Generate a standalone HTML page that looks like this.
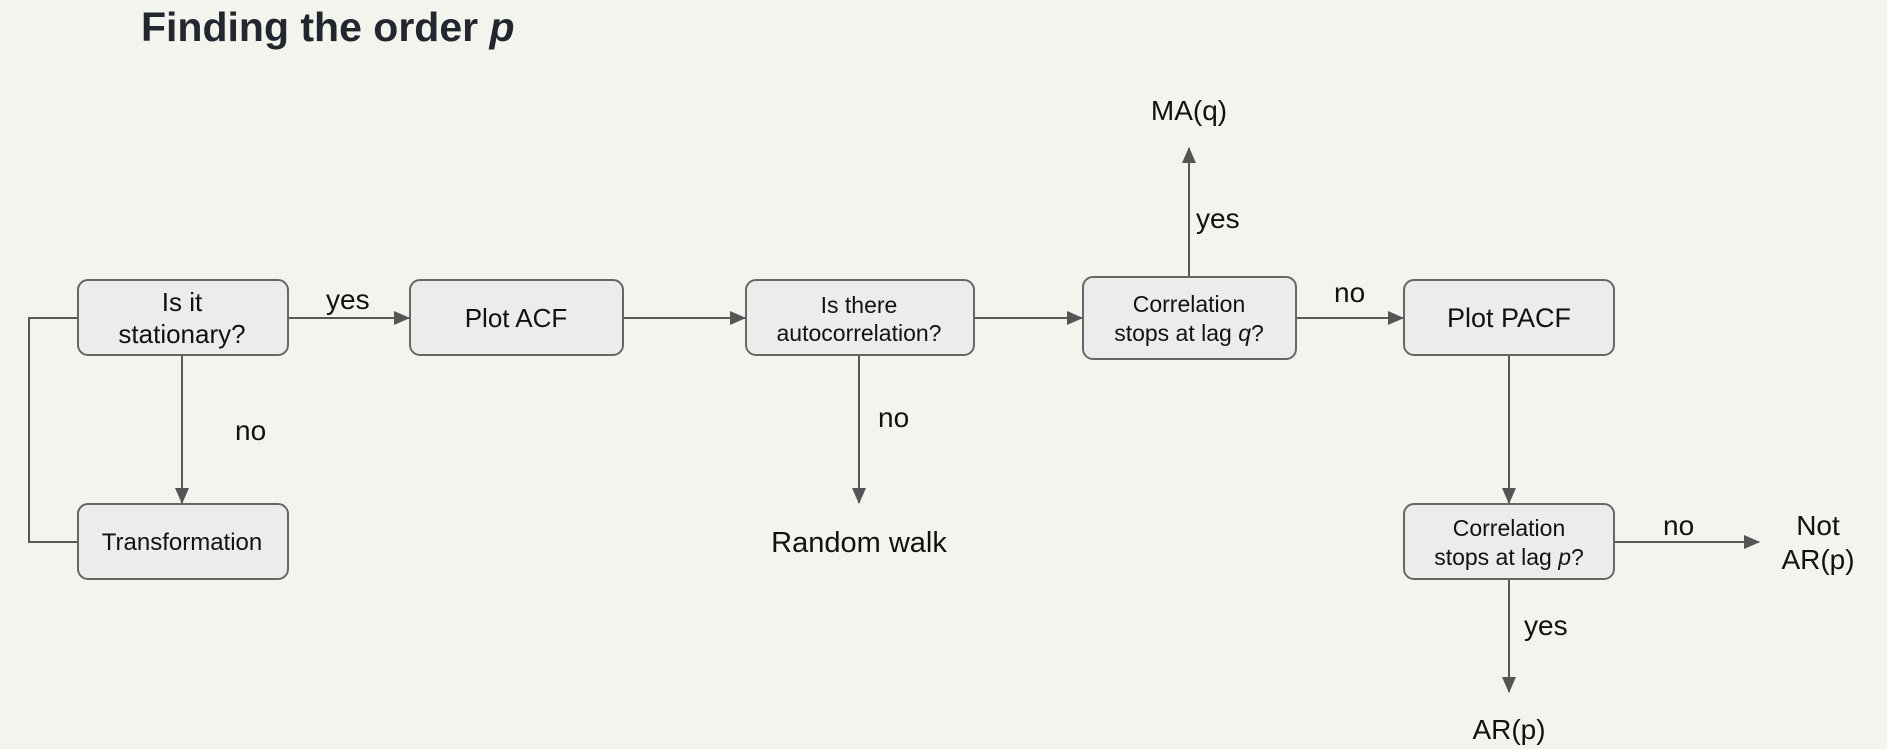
<!DOCTYPE html>
<html><head><meta charset="utf-8"><style>
html,body{margin:0;padding:0;background:#f4f4ee;}
svg{display:block;}
text{font-family:"Liberation Sans",Arial,sans-serif;fill:#111;}
</style></head><body>
<svg width="1887" height="749" viewBox="0 0 1887 749" xmlns="http://www.w3.org/2000/svg">
<defs>
<marker id="a" markerWidth="16" markerHeight="14" refX="15" refY="7" orient="auto" markerUnits="userSpaceOnUse">
<path d="M0,0 L16,7 L0,14 Z" fill="#555"/>
</marker>
</defs>
<rect width="1887" height="749" fill="#f4f4ee"/>
<text x="141" y="41" style="font-size:41px;font-weight:bold;fill:#22262e">Finding the order <tspan font-style="italic">p</tspan></text>

<g stroke="#595959" stroke-width="2" fill="none">
<line x1="288" y1="318" x2="409" y2="318" marker-end="url(#a)"/>
<line x1="623" y1="318" x2="745" y2="318" marker-end="url(#a)"/>
<line x1="974" y1="318" x2="1082" y2="318" marker-end="url(#a)"/>
<line x1="1296" y1="318" x2="1403" y2="318" marker-end="url(#a)"/>
<line x1="1189" y1="277" x2="1189" y2="148" marker-end="url(#a)"/>
<line x1="182" y1="355" x2="182" y2="503" marker-end="url(#a)"/>
<polyline points="78,318 29,318 29,542 78,542"/>
<line x1="859" y1="355" x2="859" y2="503" marker-end="url(#a)"/>
<line x1="1509" y1="355" x2="1509" y2="503" marker-end="url(#a)"/>
<line x1="1614" y1="542" x2="1759" y2="542" marker-end="url(#a)"/>
<line x1="1509" y1="579" x2="1509" y2="692" marker-end="url(#a)"/>
</g>

<g fill="#ececec" stroke="#666" stroke-width="2">
<rect x="78" y="280" width="210" height="75" rx="10"/>
<rect x="410" y="280" width="213" height="75" rx="10"/>
<rect x="746" y="280" width="228" height="75" rx="10"/>
<rect x="1083" y="277" width="213" height="82" rx="10"/>
<rect x="1404" y="280" width="210" height="75" rx="10"/>
<rect x="1404" y="504" width="210" height="75" rx="10"/>
<rect x="78" y="504" width="210" height="75" rx="10"/>
</g>

<g text-anchor="middle">
<text x="182" y="311" font-size="26">Is it</text>
<text x="182" y="343" font-size="26">stationary?</text>
<text x="516" y="327" font-size="26">Plot ACF</text>
<text x="859" y="313" font-size="23">Is there</text>
<text x="859" y="341" font-size="23">autocorrelation?</text>
<text x="1189" y="312" font-size="23">Correlation</text>
<text x="1189" y="341" font-size="23">stops at lag <tspan font-style="italic">q</tspan>?</text>
<text x="1509" y="327" font-size="27">Plot PACF</text>
<text x="1509" y="536" font-size="23">Correlation</text>
<text x="1509" y="565" font-size="23">stops at lag <tspan font-style="italic">p</tspan>?</text>
<text x="182" y="550" font-size="24">Transformation</text>
<text x="1189" y="120" font-size="28">MA(q)</text>
<text x="859" y="552" font-size="29">Random walk</text>
<text x="1818" y="535" font-size="28">Not</text>
<text x="1818" y="569" font-size="28">AR(p)</text>
<text x="1509" y="739" font-size="28">AR(p)</text>
</g>
<g font-size="28">
<text x="326" y="309">yes</text>
<text x="1196" y="228">yes</text>
<text x="1334" y="302">no</text>
<text x="235" y="440">no</text>
<text x="878" y="427">no</text>
<text x="1663" y="535">no</text>
<text x="1524" y="635">yes</text>
</g>
</svg>
</body></html>
